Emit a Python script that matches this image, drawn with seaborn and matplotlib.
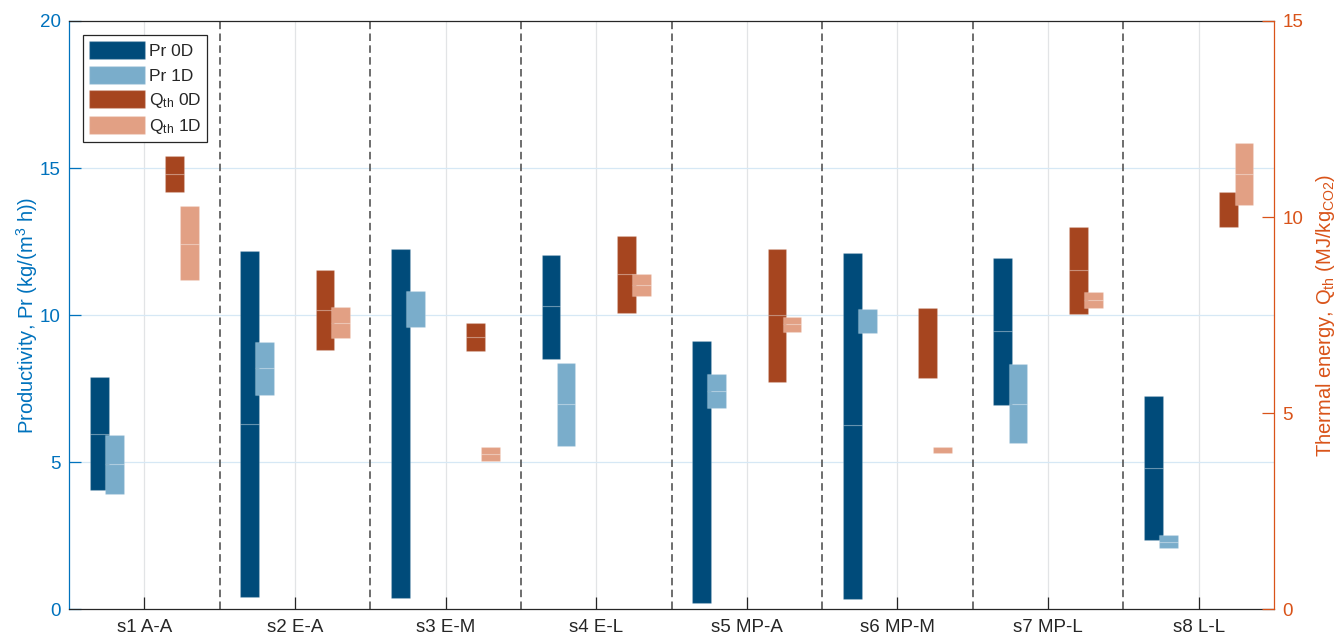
import numpy as np
import matplotlib
matplotlib.use("Agg")
import matplotlib.pyplot as plt
from matplotlib.patches import Patch
import seaborn as sns

nan = np.nan

scenarios = ["s1 A-A", "s2 E-A", "s3 E-M", "s4 E-L", "s5 MP-A", "s6 MP-M", "s7 MP-L", "s8 L-L"]

# Productivity ranges, kg/(m3 h): lower bound / split / upper bound
pr0d_low = [4.06, 0.41, 0.40, 8.51, 0.21, 0.35, 6.94, 2.37]
pr0d_mid = [5.97, 6.30, nan, 10.32, nan, 6.26, 9.46, 4.82]
pr0d_high = [7.89, 12.18, 12.26, 12.05, 9.13, 12.12, 11.95, 7.25]

pr1d_low = [3.92, 7.30, 9.59, 5.56, 6.85, 9.41, 5.65, 2.08]
pr1d_mid = [4.94, 8.20, nan, 6.98, 7.43, nan, 6.99, 2.30]
pr1d_high = [5.94, 9.08, 10.81, 8.37, 8.01, 10.22, 8.33, 2.53]

# Thermal energy ranges, MJ/kg CO2
q0d_low = [10.65, 6.61, 6.60, 7.56, 5.79, 5.89, 7.54, 9.75]
q0d_mid = [11.11, 7.62, 6.95, 8.54, 7.51, nan, 8.64, nan]
q0d_high = [11.56, 8.65, 7.29, 9.51, 9.18, 7.68, 9.76, 10.64]

q1d_low = [8.39, 6.92, 3.78, 7.99, 7.06, 3.98, 7.68, 10.31]
q1d_mid = [9.32, 7.31, 3.96, 8.27, 7.27, nan, 7.89, 11.11]
q1d_high = [10.29, 7.70, 4.13, 8.55, 7.46, 4.14, 8.09, 11.89]

left_ticks = [0, 5, 10, 15, 20]
right_ticks = [0, 5, 10, 15]

sns.set_theme(style="white")
plt.rcParams["font.family"] = ["Liberation Sans", "DejaVu Sans"]
plt.rcParams["mathtext.default"] = "regular"

C_PR0 = "#004B7A"
C_PR1 = "#7AADCB"
C_Q0 = "#A6451F"
C_Q1 = "#E2A084"
C_LEFT = "#0072BD"
C_RIGHT = "#D95319"
C_TEXT = "#262626"
EDGE = (1, 1, 1, 0.16)
W = 0.125

fig = plt.figure(figsize=(13.39, 6.37), dpi=100)
ax = fig.add_axes([0.0515, 0.0432, 0.9, 0.924])
ax2 = ax.twinx()

pos = np.arange(1, len(scenarios) + 1)


def draw_range(axis, offset, low, mid, high, color):
    low, mid, high = (np.asarray(v, dtype=float) for v in (low, mid, high))
    x = pos + offset
    split = np.where(np.isnan(mid), high, mid)
    axis.bar(x, split - low, bottom=low, width=W, color=color,
             edgecolor=EDGE, linewidth=0.9, zorder=3)
    has = ~np.isnan(mid)
    axis.bar(x[has], high[has] - mid[has], bottom=mid[has], width=W, color=color,
             edgecolor=EDGE, linewidth=0.9, zorder=3)


draw_range(ax, -0.30, pr0d_low, pr0d_mid, pr0d_high, C_PR0)
draw_range(ax, -0.20, pr1d_low, pr1d_mid, pr1d_high, C_PR1)
draw_range(ax2, 0.20, q0d_low, q0d_mid, q0d_high, C_Q0)
draw_range(ax2, 0.30, q1d_low, q1d_mid, q1d_high, C_Q1)

# grid: grey at categories, light blue at left-axis ticks
for xv in pos:
    ax.axvline(xv, color="#e2e4e6", lw=0.9, zorder=0)
for yv in left_ticks[1:-1]:
    ax.axhline(yv, color="#d6e8f5", lw=0.9, zorder=0)

# dashed separators between scenarios
for xv in pos[:-1] + 0.5:
    ax.axvline(xv, color="#555555", lw=1.2, ls=(0, (4.5, 2.6)), zorder=1)

ax.set_xlim(0.5, len(scenarios) + 0.5)
ax.set_ylim(0, 20)
ax2.set_ylim(0, 15)
ax.set_xticks(pos)
ax.set_xticklabels(scenarios)
ax.set_yticks(left_ticks)
ax2.set_yticks(right_ticks)

FS = 13.5
ax.tick_params(axis="x", direction="in", length=8.5, width=0.9, colors=C_TEXT,
               labelsize=FS, pad=7, bottom=True)
ax.tick_params(axis="y", direction="in", length=8.5, width=0.9, colors=C_LEFT,
               labelsize=FS, pad=6, left=True)
ax2.tick_params(axis="y", direction="in", length=8.5, width=0.9, colors=C_RIGHT,
                labelsize=FS, pad=6, right=True)

for s in ("left", "top", "bottom"):
    ax2.spines[s].set_visible(False)
ax.spines["right"].set_visible(False)
ax.spines["left"].set_color(C_LEFT)
ax.spines["bottom"].set_color(C_TEXT)
ax.spines["top"].set_color(C_TEXT)
ax2.spines["right"].set_color(C_RIGHT)
for sp in list(ax.spines.values()) + list(ax2.spines.values()):
    sp.set_linewidth(0.9)
ax2.grid(False)
ax.grid(False)

LFS = 14.5
ax.set_ylabel("Productivity, Pr (kg/(m$^3$ h))", color=C_LEFT, fontsize=LFS, labelpad=0)
ax2.set_ylabel("Thermal energy, Q$_{th}$ (MJ/kg$_{CO2}$)", color=C_RIGHT, fontsize=LFS, labelpad=8)

handles = [
    Patch(facecolor=C_PR0, edgecolor=EDGE, label="Pr 0D"),
    Patch(facecolor=C_PR1, edgecolor=EDGE, label="Pr 1D"),
    Patch(facecolor=C_Q0, edgecolor=EDGE, label="Q$_{th}$ 0D"),
    Patch(facecolor=C_Q1, edgecolor=EDGE, label="Q$_{th}$ 1D"),
]
leg = ax2.legend(handles=handles, loc="upper left", bbox_to_anchor=(0.0116, 0.976),
                 borderaxespad=0, fontsize=12.5, handlelength=3.2, handleheight=1.25,
                 handletextpad=0.25, labelspacing=0.35, borderpad=0.35,
                 fancybox=False, framealpha=1, edgecolor=C_TEXT)
leg.get_frame().set_linewidth(0.9)
for t in leg.get_texts():
    t.set_color(C_TEXT)

fig.savefig("out.png", dpi=100)
